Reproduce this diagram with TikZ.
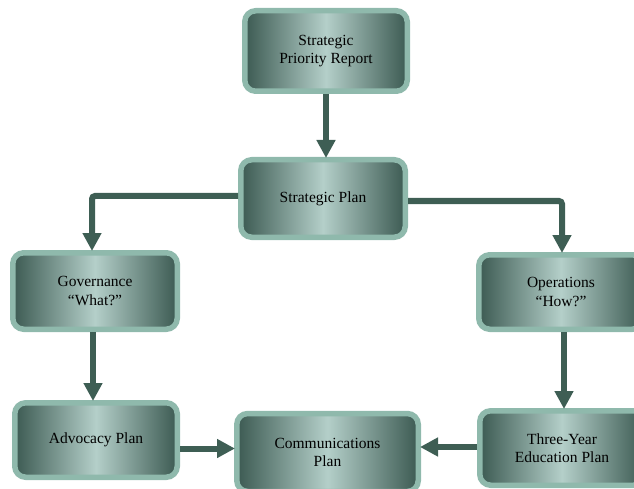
\documentclass[tikz,border=0pt]{standalone}
\usepackage{fontspec}
\setmainfont{Liberation Serif}
\usetikzlibrary{arrows.meta}
\definecolor{boxborder}{RGB}{143,185,172}
\definecolor{boxdark}{RGB}{60,90,82}
\definecolor{boxlight}{RGB}{180,207,201}
\definecolor{arrowcol}{RGB}{62,94,84}
\tikzset{
  planbox/.style={draw=boxborder, line width=5.5pt, rounded corners=11pt,
    left color=boxdark, right color=boxdark, middle color=boxlight,
    align=center, inner sep=0pt, text=black,
    font=\fontsize{15.5}{18.5}\selectfont},
  flow/.style={draw=arrowcol, line width=6pt,
    -{Triangle[length=18pt,width=18pt]}, shorten >=-1pt}
}
\begin{document}
\begin{tikzpicture}[x=1pt,y=-1pt]
\useasboundingbox (0,0) rectangle (634,489);
\node[planbox, minimum width=162.5pt, minimum height=80.5pt] (spr) at (326,51) {Strategic\\Priority Report};
\node[planbox, minimum width=164.5pt, minimum height=77.5pt] (sp) at (323,198.5) {Strategic Plan};
\node[planbox, minimum width=164.5pt, minimum height=76.5pt] (gov) at (95,291) {Governance\\``What?''};
\node[planbox, minimum width=164.5pt, minimum height=74.5pt] (ops) at (561,292) {Operations\\``How?''};
\node[planbox, minimum width=162.5pt, minimum height=74.5pt] (adv) at (96,440) {Advocacy Plan};
\node[planbox, minimum width=181.5pt, minimum height=78pt] (comm) at (327.5,452.5) {Communications\\Plan};
\node[planbox, minimum width=164.5pt, minimum height=74.5pt] (three) at (562,448) {Three-Year\\Education Plan};
\draw[flow] (spr.south) -- (spr.south |- sp.north);
\draw[flow, rounded corners=3pt] ([yshift=2.5pt]sp.west) -| ([xshift=-3pt]gov.north);
\draw[flow, rounded corners=3pt] ([yshift=-2.5pt]sp.east) -| ([xshift=1pt]ops.north);
\draw[flow] ([xshift=-2pt]gov.south) -- ([xshift=-2pt]gov.south |- adv.north);
\draw[flow] ([xshift=3pt]ops.south) -- ([xshift=3pt]ops.south |- three.north);
\draw[flow] ([yshift=4pt]comm.west -| adv.east) -- ([yshift=4pt]comm.west);
\draw[flow] ([yshift=1pt]three.west) -- ([yshift=1pt]three.west -| comm.east);
\end{tikzpicture}
\end{document}
